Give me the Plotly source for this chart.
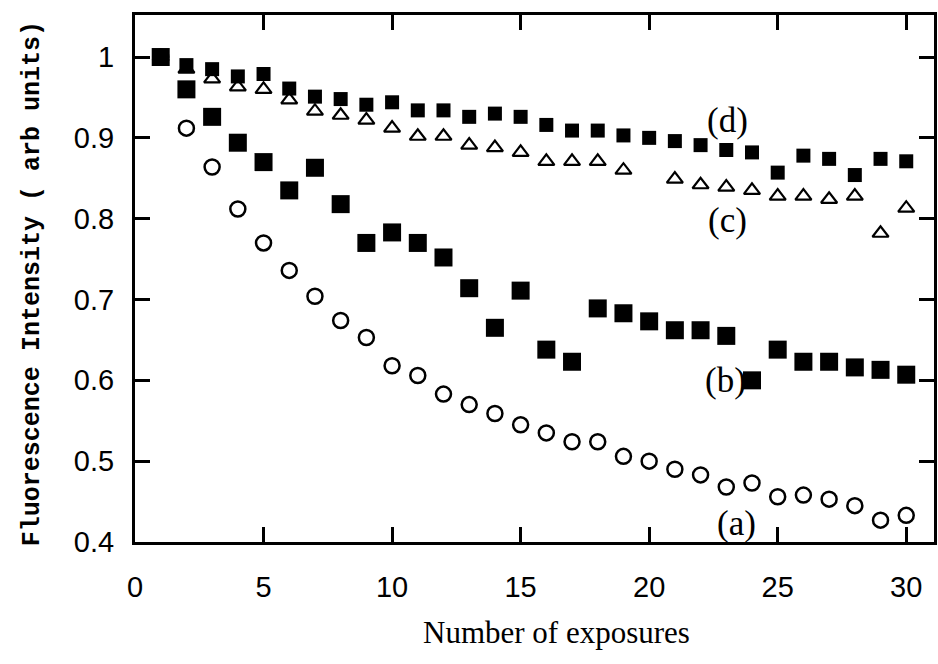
import plotly.graph_objects as go

exposures = list(range(1, 31))
series_a = [1.0, 0.912, 0.864, 0.812, 0.770, 0.736, 0.704, 0.674, 0.653, 0.618,
            0.606, 0.583, 0.570, 0.559, 0.545, 0.535, 0.524, 0.524, 0.506, 0.500,
            0.490, 0.483, 0.468, 0.473, 0.456, 0.458, 0.453, 0.445, 0.427, 0.433]
series_b = [1.0, 0.960, 0.926, 0.894, 0.870, 0.835, 0.863, 0.818, 0.770, 0.783,
            0.770, 0.752, 0.714, 0.665, 0.711, 0.638, 0.623, 0.689, 0.683, 0.673,
            0.662, 0.662, 0.655, 0.600, 0.638, 0.623, 0.623, 0.616, 0.613, 0.607]
series_c = [1.0, 0.985, 0.973, 0.963, 0.960, 0.947, 0.933, 0.928, 0.922, 0.912,
            0.902, 0.902, 0.891, 0.888, 0.882, 0.871, 0.871, 0.871, 0.860, None,
            0.849, 0.842, 0.839, 0.835, 0.828, 0.828, 0.824, 0.828, 0.782, 0.813]
series_d = [1.0, 0.990, 0.985, 0.976, 0.979, 0.961, 0.951, 0.948, 0.941, 0.944,
            0.934, 0.934, 0.926, 0.930, 0.926, 0.916, 0.909, 0.909, 0.903, 0.900,
            0.896, 0.891, 0.885, 0.882, 0.857, 0.878, 0.874, 0.854, 0.874, 0.871]

label_text = ["(a)", "(b)", "(c)", "(d)"]
label_x = [23.4, 22.95, 23.05, 23.05]
label_y = [0.4235, 0.600, 0.798, 0.922]

x_ticks = [0, 5, 10, 15, 20, 25, 30]
y_ticks = [0.4, 0.5, 0.6, 0.7, 0.8, 0.9, 1.0]
y_tick_text = ["0.4", "0.5", "0.6", "0.7", "0.8", "0.9", "1"]

fig = go.Figure()
fig.add_trace(go.Scatter(x=exposures, y=series_c, mode="markers", name="(c)",
                         marker=dict(symbol="triangle-up-open", size=14, color="black",
                                     line=dict(width=2.2, color="black"))))
fig.add_trace(go.Scatter(x=exposures, y=series_a, mode="markers", name="(a)",
                         marker=dict(symbol="circle-open", size=15, color="black",
                                     line=dict(width=2.5, color="black"))))
fig.add_trace(go.Scatter(x=exposures, y=series_b, mode="markers", name="(b)",
                         marker=dict(symbol="square", size=18, color="black",
                                     line=dict(width=0))))
fig.add_trace(go.Scatter(x=exposures, y=series_d, mode="markers", name="(d)",
                         marker=dict(symbol="square", size=14, color="black",
                                     line=dict(width=0))))

for t, lx, ly in zip(label_text, label_x, label_y):
    fig.add_annotation(x=lx, y=ly, text=t, showarrow=False,
                       font=dict(family="Liberation Serif", size=35, color="black"),
                       xanchor="center", yanchor="middle")

fig.add_annotation(xref="paper", yref="paper", x=(558.5 - 135) / 802,
                   y=-(632 - 542) / 527, text="Number of exposures", showarrow=False,
                   font=dict(family="Liberation Serif", size=31, color="black"),
                   xanchor="center", yanchor="middle")
fig.add_annotation(xref="paper", yref="paper", x=-(135 - 32) / 802, y=0.49,
                   text="<b>Fluorescence Intensity ( arb units)</b>", showarrow=False,
                   textangle=-90,
                   font=dict(family="Liberation Mono", size=25, color="black"),
                   xanchor="center", yanchor="middle")

axis_common = dict(showline=True, linewidth=3, linecolor="black", mirror="ticks",
                   ticks="inside", ticklen=15, tickwidth=3, tickcolor="black",
                   showgrid=False, zeroline=False,
                   tickfont=dict(family="Liberation Sans", size=29, color="black"))

fig.update_xaxes(range=[0, 31.08], tickvals=x_ticks, ticklabelstandoff=17, **axis_common)
fig.update_yaxes(range=[0.4, 1.052], tickvals=y_ticks, ticktext=y_tick_text,
                 ticklabelstandoff=12, **axis_common)

fig.update_layout(width=938, height=664, margin=dict(l=135, r=1, t=15, b=122),
                  plot_bgcolor="white", paper_bgcolor="white", showlegend=False)

fig.write_html("out.html")
